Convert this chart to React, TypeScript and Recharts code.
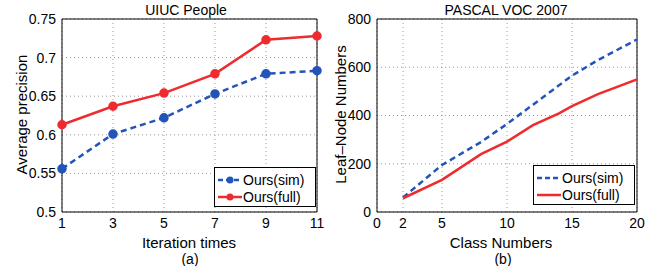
import { Legend, Line, LineChart, XAxis, YAxis, CartesianGrid, ReferenceLine } from "recharts";

// (a) UIUC People
const iterations = [1, 3, 5, 7, 9, 11];
const simPrecision = [0.556, 0.601, 0.622, 0.653, 0.679, 0.683];
const fullPrecision = [0.613, 0.637, 0.654, 0.679, 0.723, 0.728];
const precisionTicks = [0.5, 0.55, 0.6, 0.65, 0.7, 0.75];

// (b) PASCAL VOC 2007
const classNums = [2, 5, 8, 10, 12, 14, 15, 17, 20];
const simLeaves = [60, 195, 290, 365, 445, 525, 565, 630, 715];
const fullLeaves = [57, 133, 240, 292, 360, 409, 439, 489, 550];
const classTicks = [0, 2, 5, 10, 15, 20];
const leafTicks = [0, 200, 400, 600, 800];

const seriesOrder = ["Ours(sim)", "Ours(full)"];

const BLUE = "#2355b8";
const RED = "#ee2b2e";
const FONT = "'Liberation Sans', Arial, sans-serif";

const dataA = iterations.map((x, i) => ({ x, sim: simPrecision[i], full: fullPrecision[i] }));
const dataB = classNums.map((x, i) => ({ x, sim: simLeaves[i], full: fullLeaves[i] }));

const tickStyle = { fill: "#000", fontSize: 14, fontFamily: FONT };

function LegendBox({ payload, markers }: any) {
  const items = [...(payload || [])].sort(
    (a: any, b: any) => seriesOrder.indexOf(a.value) - seriesOrder.indexOf(b.value)
  );
  return (
    <div
      style={{
        border: "1px solid #000",
        background: "#fff",
        width: 102,
        height: 40,
        boxSizing: "border-box",
        padding: "3px 0 0 3px",
      }}
    >
      {items.map((p: any) => (
        <div key={p.value} style={{ display: "flex", alignItems: "center", height: 17 }}>
          <svg width={24} height={10}>
            <line
              x1={0}
              y1={5}
              x2={24}
              y2={5}
              stroke={p.color}
              strokeWidth={2.5}
              strokeDasharray={p.value === "Ours(sim)" ? "5 3" : undefined}
            />
            {markers ? <circle cx={12} cy={5} r={3.5} fill={p.color} /> : null}
          </svg>
          <span style={{ fontSize: 14, fontFamily: FONT, marginLeft: 1, color: "#000" }}>{p.value}</span>
        </div>
      ))}
    </div>
  );
}

function Caption({ text, x, y, size = 15 }: { text: string; x: number; y: number; size?: number }) {
  return (
    <div
      style={{
        position: "absolute",
        left: x - 100,
        top: y,
        width: 200,
        textAlign: "center",
        fontSize: size,
        fontFamily: FONT,
        lineHeight: 1,
        color: "#000",
      }}
    >
      {text}
    </div>
  );
}

function VCaption({ text, x, y }: { text: string; x: number; y: number }) {
  return (
    <div
      style={{
        position: "absolute",
        left: x - 100,
        top: y - 8,
        width: 200,
        textAlign: "center",
        fontSize: 15,
        fontFamily: FONT,
        lineHeight: 1,
        transform: "rotate(-90deg)",
        color: "#000",
      }}
    >
      {text}
    </div>
  );
}

export default function App() {
  return (
    <div style={{ position: "absolute", left: 0, top: 0, width: 651, height: 266, background: "#fff" }}>
      <div style={{ position: "absolute", left: 0, top: 0 }}>
        <LineChart width={330} height={266} data={dataA} margin={{ top: 19, right: 13, bottom: 24, left: 0 }}>
          <CartesianGrid stroke="#999" strokeDasharray="1 3" verticalValues={iterations} horizontalValues={precisionTicks} />
          <XAxis
            dataKey="x"
            type="number"
            domain={[1, 11]}
            ticks={iterations}
            height={30}
            tickSize={0}
            tickMargin={6}
            tick={tickStyle}
            stroke="#000"
          />
          <YAxis
            type="number"
            domain={[0.5, 0.75]}
            ticks={precisionTicks}
            width={62}
            tickSize={0}
            tickMargin={6}
            tick={tickStyle}
            tickFormatter={(v: number) => String(+v.toFixed(2))}
            stroke="#000"
          />
          <ReferenceLine y={0.75} stroke="#000" />
          <ReferenceLine x={11} stroke="#000" />
          <Legend
            layout="vertical"
            align="center"
            verticalAlign="middle"
            wrapperStyle={{ left: 214, top: 167, width: 102 }}
            content={(props: any) => <LegendBox {...props} markers />}
          />
          <Line
            dataKey="sim"
            name="Ours(sim)"
            stroke={BLUE}
            strokeWidth={2.5}
            strokeDasharray="6 4"
            dot={{ r: 3.5, fill: BLUE, stroke: BLUE, strokeDasharray: "0" }}
            isAnimationActive={false}
          />
          <Line
            dataKey="full"
            name="Ours(full)"
            stroke={RED}
            strokeWidth={2.5}
            dot={{ r: 3.5, fill: RED, stroke: RED }}
            isAnimationActive={false}
          />
        </LineChart>
        <Caption text="UIUC People" x={186} y={3} size={14} />
        <Caption text="Iteration times" x={189} y={235} />
        <Caption text="(a)" x={190} y={252} size={14} />
        <VCaption text="Average precision" x={21} y={115} />
      </div>

      <div style={{ position: "absolute", left: 320, top: 0 }}>
        <LineChart width={331} height={266} data={dataB} margin={{ top: 19, right: 14, bottom: 24, left: 0 }}>
          <CartesianGrid stroke="#999" strokeDasharray="1 3" verticalValues={classTicks} horizontalValues={leafTicks} />
          <XAxis
            dataKey="x"
            type="number"
            domain={[0, 20]}
            ticks={classTicks}
            height={30}
            tickSize={0}
            tickMargin={6}
            tick={tickStyle}
            stroke="#000"
          />
          <YAxis
            type="number"
            domain={[0, 800]}
            ticks={leafTicks}
            width={57}
            tickSize={0}
            tickMargin={6}
            tick={tickStyle}
            stroke="#000"
          />
          <ReferenceLine y={800} stroke="#000" />
          <ReferenceLine x={20} stroke="#000" />
          <Legend
            layout="vertical"
            align="center"
            verticalAlign="middle"
            wrapperStyle={{ left: 213, top: 165, width: 103 }}
            content={(props: any) => <LegendBox {...props} />}
          />
          <Line
            dataKey="sim"
            name="Ours(sim)"
            stroke={BLUE}
            strokeWidth={2.5}
            strokeDasharray="6 4"
            dot={false}
            isAnimationActive={false}
          />
          <Line dataKey="full" name="Ours(full)" stroke={RED} strokeWidth={2.5} dot={false} isAnimationActive={false} />
        </LineChart>
        <Caption text="PASCAL VOC 2007" x={186} y={3} size={14} />
        <Caption text="Class Numbers" x={181} y={235} />
        <Caption text="(b)" x={183} y={252} size={14} />
        <VCaption text="Leaf–Node Numbers" x={20} y={115} />
      </div>
    </div>
  );
}
